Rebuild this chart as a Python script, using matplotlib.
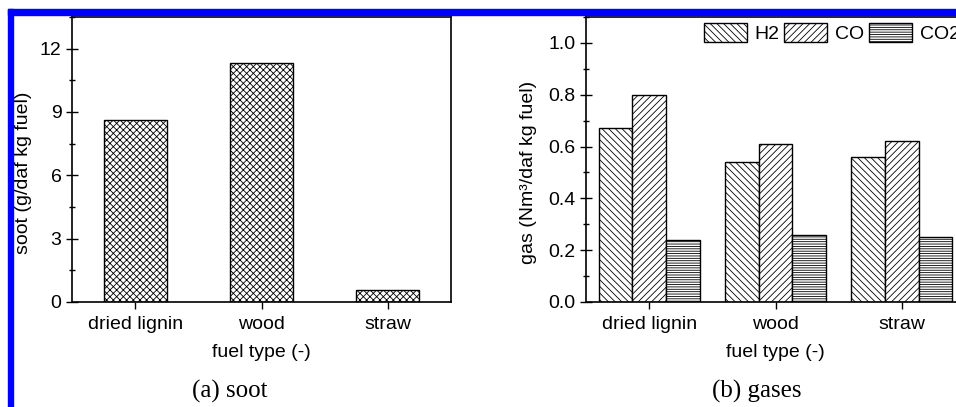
import numpy as np
import matplotlib
matplotlib.use('Agg')
import matplotlib.pyplot as plt
from matplotlib.patches import Rectangle
from matplotlib.ticker import MultipleLocator

# data
fuels = ['dried lignin', 'wood', 'straw']
soot = [8.62, 11.3, 0.58]
gases = ['H2', 'CO', 'CO2']
h2 = [0.67, 0.54, 0.56]
co = [0.80, 0.61, 0.62]
co2 = [0.24, 0.26, 0.25]

plt.rcParams['font.family'] = ['Liberation Sans', 'DejaVu Sans']
plt.rcParams['font.size'] = 14
plt.rcParams['hatch.linewidth'] = 0.6

W, H = 956, 407
fig = plt.figure(figsize=(W / 100, H / 100), dpi=100)

def px_axes(x0, x1, ytop, ybot):
    return fig.add_axes([x0 / W, 1 - ybot / H, (x1 - x0) / W, (ybot - ytop) / H])

x = np.arange(1, len(fuels) + 1)

# (a) soot
ax1 = px_axes(72, 451, 17, 302)
ax1.bar(x, soot, width=0.5, color='white', edgecolor='black', linewidth=1, hatch='xxxxx')
ax1.set_xlim(0.5, 3.5)
ax1.set_ylim(0, 13.5)
ax1.yaxis.set_major_locator(MultipleLocator(3))
ax1.yaxis.set_minor_locator(MultipleLocator(1.5))
ax1.set_ylabel('soot (g/daf kg fuel)')
ax1.yaxis.set_label_coords(-0.106, 0.453)
ax1.set_xlabel('fuel type (-)', labelpad=8)

# (b) gases
ax2 = px_axes(586, 965, 17, 302)
bw = 0.267
ax2.bar(x - bw, h2, width=bw, color='white', edgecolor='black', linewidth=1, hatch='\\\\\\\\\\', label=gases[0])
ax2.bar(x, co, width=bw, color='white', edgecolor='black', linewidth=1, hatch='/////', label=gases[1])
ax2.bar(x + bw, co2, width=bw, color='white', edgecolor='black', linewidth=1, hatch='-------', label=gases[2])
ax2.set_xlim(0.5, 3.5)
ax2.set_ylim(0, 1.1)
ax2.yaxis.set_major_locator(MultipleLocator(0.2))
ax2.yaxis.set_minor_locator(MultipleLocator(0.1))
ax2.yaxis.set_major_formatter(matplotlib.ticker.FormatStrFormatter('%.1f'))
ax2.set_ylabel('gas (Nm³/daf kg fuel)')
ax2.yaxis.set_label_coords(-0.129, 0.455)
ax2.set_xlabel('fuel type (-)', labelpad=8)
ax2.legend(loc='upper left', bbox_to_anchor=(704 / W, 1 - 23 / H), bbox_transform=fig.transFigure,
           ncol=3, frameon=False, borderpad=0, borderaxespad=0, handlelength=2.2, handleheight=1.1,
           handletextpad=0.4, columnspacing=0.25, fontsize=14)

for ax in (ax1, ax2):
    ax.set_xticks(x)
    ax.set_xticklabels(fuels)
    ax.tick_params(axis='x', direction='out', length=5, width=1, pad=5)
    ax.tick_params(axis='y', which='major', direction='inout', length=9, width=1, pad=3)
    ax.tick_params(axis='y', which='minor', direction='inout', length=5, width=1)
    for s in ax.spines.values():
        s.set_linewidth(1.2)

fig.text(230 / W, 9 / H, '(a) soot', family='Liberation Serif', fontsize=18, ha='center', va='baseline')
fig.text(757 / W, 9 / H, '(b) gases', family='Liberation Serif', fontsize=18, ha='center', va='baseline')

# blue frame of the page
fig.patches.append(Rectangle((8 / W, 0), 5 / W, 1 - 9 / H, transform=fig.transFigure, color='#0000ff', zorder=5))
fig.patches.append(Rectangle((8 / W, 1 - 15 / H), 1 - 8 / W, 6 / H, transform=fig.transFigure, color='#0000ff', zorder=5))

fig.savefig('out.png', dpi=100)
